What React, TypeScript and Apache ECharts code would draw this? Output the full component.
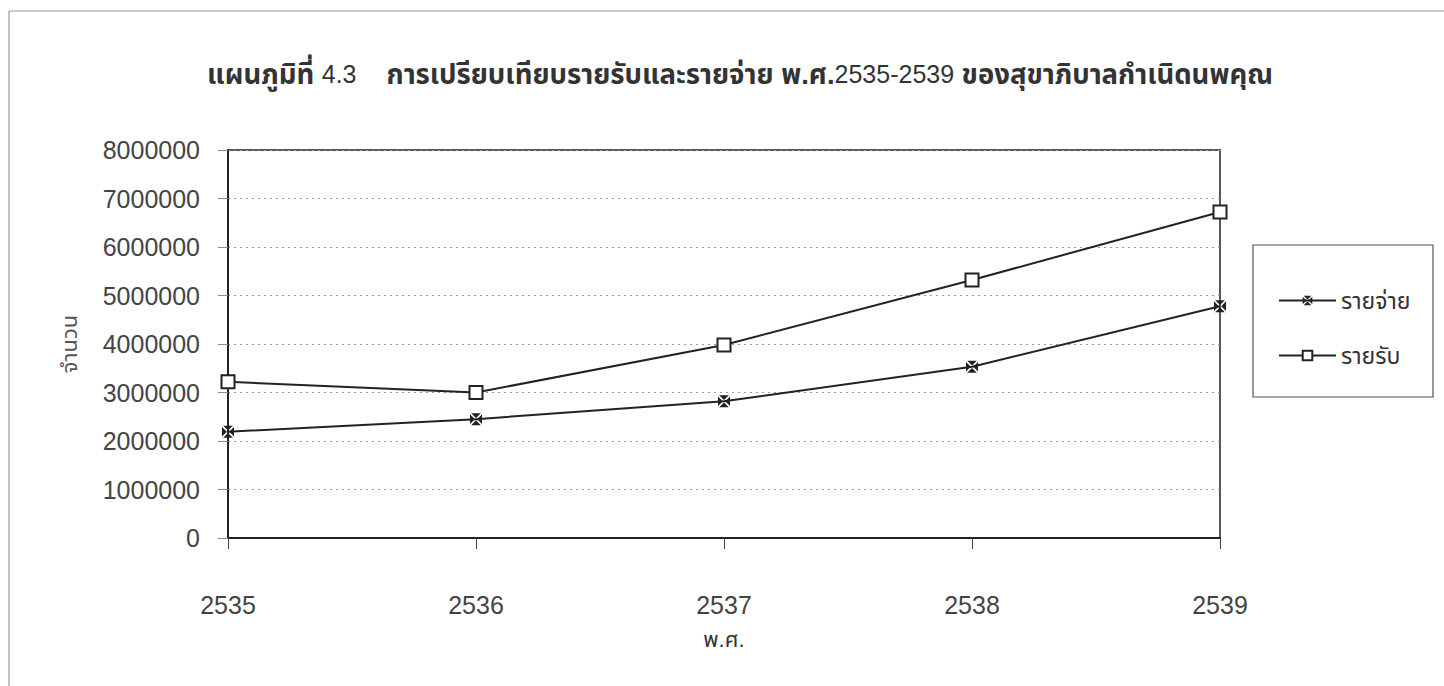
import React, { useEffect, useRef } from "react";
import * as echarts from "echarts";

const years = ["2535", "2536", "2537", "2538", "2539"];
const expense = [2190000, 2450000, 2820000, 3530000, 4780000];
const income = [3220000, 3000000, 3980000, 5320000, 6720000];
const seriesNames = ["รายจ่าย", "รายรับ"];
const titleText = "{b|แผนภูมิที่} {n|4.3}    {b|การเปรียบเทียบรายรับและรายจ่าย พ.ศ.}{n|2535-2539} {b|ของสุขาภิบาลกำเนิดนพคุณ}";
const xName = "พ.ศ.";
const yName = "จำนวน";

const xMarker = "path://M1,0 L9,0 L5,4 Z M10,1 L10,9 L6,5 Z M9,10 L1,10 L5,6 Z M0,9 L0,1 L4,5 Z";
const FONT = "Liberation Sans, Arial, Noto Sans Thai, sans-serif";

export default function App() {
  const ref = useRef<HTMLDivElement>(null);
  useEffect(() => {
    const chart = echarts.init(ref.current!, null, { renderer: "svg" });
    chart.setOption({
      animation: false,
      backgroundColor: "#fff",
      textStyle: { fontFamily: FONT },
      title: {
        text: titleText,
        left: 735,
        textAlign: "center",
        top: 55,
        textStyle: {
          fontSize: 27,
          color: "#333",
          fontFamily: FONT,
          rich: {
            b: { fontSize: 27.5, fontWeight: "bold", color: "#333", fontFamily: FONT },
            n: { fontSize: 25, fontWeight: "normal", color: "#333", fontFamily: FONT },
          },
        },
      },
      grid: {
        left: 228,
        top: 150,
        width: 992,
        height: 388,
        show: true,
        borderColor: "#222",
        borderWidth: 1.5,
        backgroundColor: "transparent",
      },
      legend: {
        orient: "vertical",
        left: 1273,
        top: 284,
        itemGap: 32,
        itemWidth: 57,
        itemHeight: 12,
        data: seriesNames,
        textStyle: { fontSize: 23, color: "#333", fontFamily: FONT },
      },
      xAxis: {
        type: "category",
        data: years,
        boundaryGap: false,
        name: xName,
        nameLocation: "middle",
        nameGap: 90,
        nameTextStyle: { fontSize: 22, color: "#333" },
        axisLine: { lineStyle: { color: "#222", width: 2 } },
        axisTick: { show: true, length: 11, inside: false, lineStyle: { color: "#444" } },
        axisLabel: { fontSize: 25, color: "#444", margin: 54 },
        splitLine: { show: false },
      },
      yAxis: {
        type: "value",
        min: 0,
        max: 8000000,
        interval: 1000000,
        name: yName,
        nameLocation: "middle",
        nameGap: 148,
        nameRotate: 90,
        nameTextStyle: { fontSize: 22, color: "#555" },
        axisLine: { show: true, lineStyle: { color: "#222", width: 2 } },
        axisTick: { show: true, length: 10, lineStyle: { color: "#888" } },
        axisLabel: { fontSize: 25, color: "#444", margin: 28, formatter: (v: number) => String(v) },
        splitLine: { show: true, lineStyle: { color: "#999", type: [2, 4], width: 1 } },
      },
      series: [
        {
          name: seriesNames[0],
          type: "line",
          data: expense,
          symbol: xMarker,
          symbolSize: 12,
          lineStyle: { color: "#222", width: 2 },
          itemStyle: { color: "#222", borderWidth: 0 },
        },
        {
          name: seriesNames[1],
          type: "line",
          data: income,
          symbol: "rect",
          symbolSize: 13,
          lineStyle: { color: "#222", width: 2 },
          itemStyle: { color: "#fff", borderColor: "#222", borderWidth: 2 },
        },
      ],
      graphic: [
        {
          type: "rect",
          shape: { x: 1253, y: 245, width: 180, height: 152 },
          style: { fill: "none", stroke: "#555", lineWidth: 1.2 },
          z: -1,
        },
        {
          type: "line",
          shape: { x1: 9, y1: 11, x2: 1444, y2: 11 },
          style: { stroke: "#999", lineWidth: 1.2 },
        },
        {
          type: "line",
          shape: { x1: 9, y1: 11, x2: 9, y2: 686 },
          style: { stroke: "#999", lineWidth: 1.2 },
        },
      ],
    });
    return () => chart.dispose();
  }, []);
  return <div ref={ref} style={{ width: 1444, height: 686, position: "absolute", left: 0, top: 0 }} />;
}
